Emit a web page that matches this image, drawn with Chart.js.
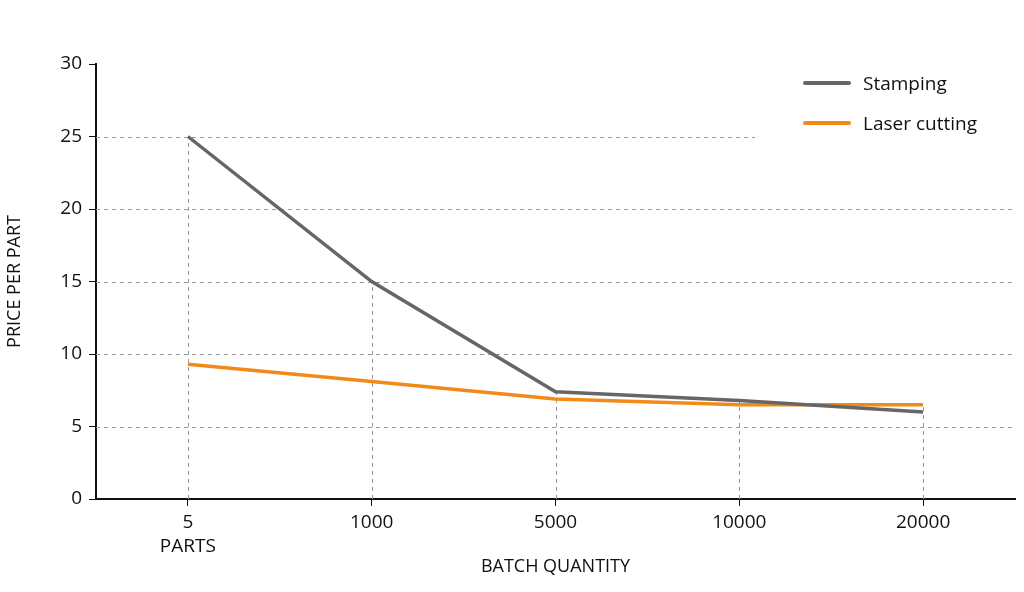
<!DOCTYPE html>
<html>
<head>
<meta charset="utf-8">
<script src="https://cdn.jsdelivr.net/npm/chart.js@4/dist/chart.umd.min.js"></script>
<style>
  html, body { margin: 0; background: #fff; }
  #wrap { position: relative; width: 1024px; height: 592px; }
  .legend { position: absolute; left: 803px; top: 63px; font: 19px 'Open Sans', sans-serif; color: #111; }
  .legend div { height: 40px; display: flex; align-items: center; }
  .legend span.sw { display: inline-block; width: 48px; height: 4px; border-radius: 2px; margin-right: 12px; }
</style>
</head>
<body>
<div id="wrap">
  <canvas id="priceChart" width="1024" height="592"></canvas>
  <div class="legend" id="legend"></div>
</div>
<script>
var batchLabels = [['5', 'PARTS'], '1000', '5000', '10000', '20000'];
var stampingPrice = [25, 15, 7.4, 6.8, 6.0];
var laserPrice = [9.3, 8.1, 6.9, 6.5, 6.5];
var yTicks = [5, 10, 15, 20, 25];

var seriesNames = ['Stamping', 'Laser cutting'];
var seriesColors = ['#666666', '#f28a1a'];

// legend first, so the grid plugin can see where it sits
const legendEl = document.getElementById('legend');
seriesNames.forEach((name, i) => {
    legendEl.innerHTML += '<div><span class="sw" style="background:' + seriesColors[i] + '"></span>' + name + '</div>';
});

// dashed horizontal grid + drop lines from axis to the points
const guideLines = {
    id: 'guideLines',
    beforeDatasetsDraw(chart) {
        const ctx = chart.ctx;
        const area = chart.chartArea;
        const x = chart.scales.x, y = chart.scales.y;
        const legendLeft = legendEl.offsetLeft;
        const legendBottom = legendEl.offsetTop + legendEl.offsetHeight;
        ctx.save();
        ctx.strokeStyle = '#9a9a9a';
        ctx.lineWidth = 1;
        ctx.setLineDash([4, 4]);
        yTicks.forEach(v => {
            let py = Math.round(y.getPixelForValue(v)) + 0.5;
            let right = py < legendBottom ? legendLeft - 48 : area.right;
            ctx.beginPath();
            ctx.moveTo(area.left, py);
            ctx.lineTo(right, py);
            ctx.stroke();
        });
        batchLabels.forEach((lab, i) => {
            let px = Math.round(x.getPixelForValue(i)) + 0.5;
            let top = y.getPixelForValue(Math.max(stampingPrice[i], laserPrice[i]));
            ctx.beginPath();
            ctx.moveTo(px, area.bottom);
            ctx.lineTo(px, top);
            ctx.stroke();
        });
        ctx.restore();
    }
};

const tickFont = { family: 'Open Sans', size: 19, lineHeight: 1.3 };

const canvas = document.getElementById('priceChart');
new Chart(canvas, {
    type: 'line',
    data: {
        labels: batchLabels,
        datasets: [{
            label: seriesNames[0],
            data: stampingPrice,
            borderColor: seriesColors[0],
            borderWidth: 3.5,
            pointRadius: 0,
            tension: 0,
        }, {
            label: seriesNames[1],
            data: laserPrice,
            borderColor: seriesColors[1],
            borderWidth: 3.5,
            pointRadius: 0,
            tension: 0,
        }]
    },
    options: {
        responsive: false,
        animation: false,
        layout: { padding: { top: 64, right: 9, left: 0, bottom: 0 } },
        plugins: {
            legend: { display: false },
            tooltip: { enabled: false }
        },
        scales: {
            x: {
                offset: true,
                grid: { drawOnChartArea: false, color: '#111', tickLength: 7, offset: false },
                border: { color: '#111', width: 2 },
                ticks: { color: '#111', font: tickFont, padding: 4, maxRotation: 0 },
                title: {
                    display: true, text: 'BATCH QUANTITY', color: '#111',
                    font: { family: 'Open Sans', size: 18 }, padding: { top: 4, bottom: 14 }
                },
                afterFit: s => { s.height = 93; }
            },
            y: {
                min: 0, max: 30,
                grid: { drawOnChartArea: false, color: '#111', tickLength: 7 },
                border: { color: '#111', width: 2 },
                ticks: { stepSize: 5, color: '#111', font: tickFont, padding: 7 },
                title: {
                    display: true, text: 'PRICE PER PART', color: '#111',
                    font: { family: 'Open Sans', size: 18 }, padding: { top: 4, bottom: 0 }
                },
                afterFit: s => { s.width = 96; }
            }
        }
    },
    plugins: [guideLines]
});
</script>
</body>
</html>
